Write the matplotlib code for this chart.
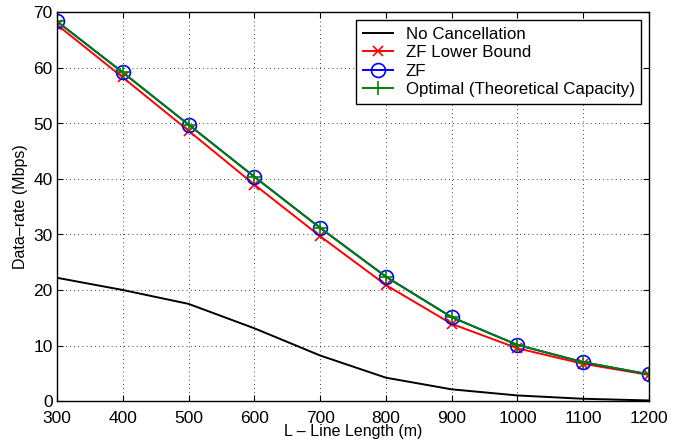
import matplotlib
matplotlib.use("Agg")
import matplotlib.pyplot as plt

plt.rcParams['font.family'] = ['Liberation Sans', 'DejaVu Sans']

length_m = [300, 400, 500, 600, 700, 800, 900, 1000, 1100, 1200]
no_cancel = [22.2, 20.0, 17.5, 13.1, 8.2, 4.2, 2.1, 1.0, 0.4, 0.1]
zf_lower = [67.8, 58.3, 48.7, 39.0, 29.7, 20.9, 13.9, 9.5, 6.7, 4.7]
zf = [68.4, 59.2, 49.8, 40.4, 31.2, 22.4, 15.1, 10.1, 7.0, 4.8]
optimal = [68.4, 59.2, 49.8, 40.4, 31.2, 22.4, 15.1, 10.1, 7.0, 4.8]
xticks = [300, 400, 500, 600, 700, 800, 900, 1000, 1100, 1200]
yticks = [0, 10, 20, 30, 40, 50, 60, 70]

fig = plt.figure(figsize=(6.79, 4.40), dpi=100)
ax = fig.add_axes([57/679, 1 - 401/440, (649-57)/679, (401-12.5)/440])

ax.plot(length_m, no_cancel, color='black', lw=1.4, label='No Cancellation')
ax.plot(length_m, zf_lower, color='red', lw=1.4, marker='x', ms=7, mew=1.2, label='ZF Lower Bound')
ax.plot(length_m, zf, color='blue', lw=1.4, marker='o', ms=10, mfc='none', mew=1.2, label='ZF')
ax.plot(length_m, optimal, color='green', lw=1.4, marker='+', ms=10, mew=1.2, label='Optimal (Theoretical Capacity)')

ax.set_xlim(300, 1200)
ax.set_ylim(0, 70)
ax.set_xticks(xticks)
ax.set_yticks(yticks)
ax.tick_params(direction='in', top=True, right=True, length=4, width=0.8, labelsize=12.5)
ax.tick_params(axis='x', pad=7)
ax.tick_params(axis='y', pad=3)
ax.grid(True, color='black', linestyle=(0, (1, 4)), linewidth=0.6)
for s in ax.spines.values():
    s.set_linewidth(1.0)

ax.set_xlabel('L – Line Length (m)', fontsize=11.5, labelpad=-1)
ax.set_ylabel('Data–rate (Mbps)', fontsize=11.5, labelpad=4)

leg = ax.legend(loc='upper right', fontsize=12.2, frameon=True, fancybox=False,
                edgecolor='black', framealpha=1, borderpad=0.4, labelspacing=0.2,
                handlelength=1.75, handletextpad=0.75, borderaxespad=0.45)
leg.get_frame().set_linewidth(1.0)

fig.savefig('out.png', dpi=100)
